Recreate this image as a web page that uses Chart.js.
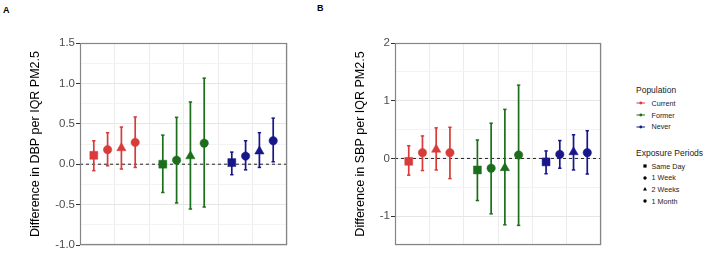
<!DOCTYPE html>
<html>
<head>
<meta charset="utf-8">
<script src="https://cdn.jsdelivr.net/npm/chart.js@4.4.1/dist/chart.umd.min.js"></script>
<style>
  html, body { margin: 0; padding: 0; background: #fff; }
  body { width: 709px; height: 253px; position: relative; overflow: hidden; font-family: "Liberation Sans", Arial, sans-serif; }
  canvas { position: absolute; top: 0; }
  .lbl { position: absolute; white-space: nowrap; color: #000; }
  .panel { font-weight: bold; font-size: 9px; }
  .ltitle { font-size: 8.5px; line-height: 10px; height: 10px; color: #222; }
  .litem { font-size: 7.2px; line-height: 9px; height: 9px; color: #222; }
  svg.key { position: absolute; overflow: visible; }
</style>
</head>
<body>
<div class="lbl panel" style="left:3px; top:5px;">A</div>
<div class="lbl panel" style="left:317px; top:3px;">B</div>
<canvas id="chartA" width="300" height="253" style="left:0px;"></canvas>
<canvas id="chartB" width="310" height="253" style="left:300px;"></canvas>
<div id="legend"></div>
<script>
// ---------- Categories ----------
const populations = ['Current', 'Former', 'Never'];
const periods = ['Same Day', '1 Week', '2 Weeks', '1 Month'];
const popColors = ['#D93A3A', '#1C6E1C', '#17178A'];
const periodShapes = ['rect', 'circle', 'triangle', 'circle'];

// ---------- Panel A: DBP ----------
const dbpCurrent     = [0.11, 0.18, 0.20, 0.27];
const dbpCurrentLow  = [-0.08, -0.02, -0.06, -0.04];
const dbpCurrentHigh = [0.29, 0.39, 0.46, 0.585];
const dbpFormer      = [0.00, 0.05, 0.10, 0.26];
const dbpFormerLow   = [-0.35, -0.48, -0.555, -0.53];
const dbpFormerHigh  = [0.36, 0.58, 0.77, 1.065];
const dbpNever       = [0.02, 0.10, 0.16, 0.29];
const dbpNeverLow    = [-0.13, -0.07, -0.04, 0.03];
const dbpNeverHigh   = [0.15, 0.29, 0.39, 0.57];
const dbpTickValues  = [-1, -0.5, 0, 0.5, 1, 1.5];
const dbpTickLabels  = ['-1.0', '-0.5', '0.0', '0.5', '1.0', '1.5'];

// ---------- Panel B: SBP ----------
const sbpCurrent     = [-0.05, 0.10, 0.155, 0.10];
const sbpCurrentLow  = [-0.29, -0.21, -0.20, -0.35];
const sbpCurrentHigh = [0.22, 0.39, 0.53, 0.54];
const sbpFormer      = [-0.20, -0.17, -0.165, 0.06];
const sbpFormerLow   = [-0.73, -0.96, -1.15, -1.16];
const sbpFormerHigh  = [0.32, 0.61, 0.85, 1.27];
const sbpNever       = [-0.06, 0.07, 0.11, 0.10];
const sbpNeverLow    = [-0.265, -0.17, -0.20, -0.27];
const sbpNeverHigh   = [0.13, 0.31, 0.41, 0.48];
const sbpTickValues  = [-1, 0, 1, 2];
const sbpTickLabels  = ['-1', '0', '1', '2'];

const FONT = '"Liberation Sans", Arial, sans-serif';
const radii = { rect: 5.6, circle: 4.2, triangle: 5.4 };

function xPos(g, p) { return g * 5 + p + 1; }

const framePlugin = {
  id: 'frame',
  afterDatasetsDraw(chart) {
    const a = chart.chartArea, ctx = chart.ctx;
    ctx.save();
    ctx.strokeStyle = '#858585';
    ctx.lineWidth = 1.2;
    ctx.strokeRect(Math.round(a.left) + 0.5, Math.round(a.top) + 0.5,
                   Math.round(a.right - a.left) - 1, Math.round(a.bottom - a.top) - 1);
    ctx.restore();
  }
};

function makeChart(id, groups, opt) {
  const datasets = [];
  // points (drawn on top: first datasets are drawn last)
  groups.forEach((grp, g) => {
    datasets.push({
      label: populations[g],
      data: grp.est.map((v, p) => ({ x: xPos(g, p), y: v })),
      pointStyle: periodShapes.slice(),
      pointRadius: periodShapes.map(s => radii[s]),
      backgroundColor: popColors[g],
      borderColor: popColors[g],
      pointBorderWidth: 0.5,
      showLine: false
    });
  });
  // error bars
  groups.forEach((grp, g) => {
    const d = [];
    grp.est.forEach((v, p) => {
      d.push({ x: xPos(g, p), y: grp.lo[p] });
      d.push({ x: xPos(g, p), y: grp.hi[p] });
      d.push({ x: xPos(g, p), y: null });
    });
    datasets.push({
      label: populations[g] + ' CI',
      data: d,
      showLine: true,
      spanGaps: false,
      borderColor: popColors[g],
      backgroundColor: popColors[g],
      borderWidth: 1.7,
      pointStyle: 'line',
      pointRadius: 1.7,
      pointBorderWidth: 1.5,
      pointBorderColor: popColors[g]
    });
  });
  // reference line at 0
  datasets.push({
    label: 'zero',
    data: [{ x: 0, y: 0 }, { x: 15, y: 0 }],
    showLine: true,
    borderColor: '#222',
    borderWidth: 1,
    borderDash: [3, 3],
    pointRadius: 0
  });

  const isMajor = v => opt.tickValues.some(t => Math.abs(t - v) < 1e-9);

  return new Chart(document.getElementById(id), {
    type: 'scatter',
    data: { datasets },
    plugins: [framePlugin],
    options: {
      responsive: false,
      animation: false,
      events: [],
      layout: { autoPadding: false, padding: opt.padding },
      plugins: { legend: { display: false }, tooltip: { enabled: false } },
      scales: {
        x: {
          type: 'linear', min: 0, max: 15,
          ticks: { display: false, stepSize: 2.5 },
          grid: { color: '#ececec', lineWidth: 1, drawTicks: false },
          border: { display: false },
          afterFit: s => { s.height = 0; }
        },
        y: {
          type: 'linear', min: opt.min, max: opt.max,
          ticks: {
            stepSize: opt.step, autoSkip: false, padding: 1,
            color: '#4d4d4d',
            font: { family: FONT, size: 11.5 },
            callback: v => {
              const i = opt.tickValues.findIndex(t => Math.abs(t - v) < 1e-9);
              return i >= 0 ? opt.tickLabels[i] : '';
            }
          },
          grid: {
            color: c => isMajor(c.tick.value) ? '#e6e6e6' : '#f3f3f3',
            lineWidth: 1,
            tickLength: 4,
            tickColor: c => isMajor(c.tick.value) ? '#333' : 'rgba(0,0,0,0)'
          },
          border: { display: false },
          title: {
            display: true, text: opt.title, color: '#000',
            font: { family: FONT, size: 12.5 }, padding: 0
          },
          afterFit: s => { s.width = opt.scaleWidth; }
        }
      }
    }
  });
}

makeChart('chartA', [
  { est: dbpCurrent, lo: dbpCurrentLow, hi: dbpCurrentHigh },
  { est: dbpFormer,  lo: dbpFormerLow,  hi: dbpFormerHigh },
  { est: dbpNever,   lo: dbpNeverLow,   hi: dbpNeverHigh }
], {
  min: -1, max: 1.5, step: 0.25,
  tickValues: dbpTickValues, tickLabels: dbpTickLabels,
  title: 'Difference in DBP per IQR PM2.5',
  padding: { left: 28, top: 43, right: 13, bottom: 8 },
  scaleWidth: 52
});

makeChart('chartB', [
  { est: sbpCurrent, lo: sbpCurrentLow, hi: sbpCurrentHigh },
  { est: sbpFormer,  lo: sbpFormerLow,  hi: sbpFormerHigh },
  { est: sbpNever,   lo: sbpNeverLow,   hi: sbpNeverHigh }
], {
  min: -1.5, max: 2, step: 0.5,
  tickValues: sbpTickValues, tickLabels: sbpTickLabels,
  title: 'Difference in SBP per IQR PM2.5',
  padding: { left: 53.5, top: 43, right: 9, bottom: 8 },
  scaleWidth: 41.5
});

// ---------- Legend (HTML) ----------
(function buildLegend() {
  const L = document.getElementById('legend');
  const add = html => L.insertAdjacentHTML('beforeend', html);
  add('<div class="lbl ltitle" style="left:636px; top:85px;">Population</div>');
  populations.forEach((p, i) => {
    const cy = 103.3 + i * 11.7;
    add(`<svg class="key" width="10" height="6" style="left:636px; top:${cy - 3}px;">
           <line x1="0.5" y1="3" x2="9" y2="3" stroke="${popColors[i]}" stroke-width="1"/>
           <circle cx="4.8" cy="3" r="1.4" fill="${popColors[i]}"/></svg>`);
    add(`<div class="lbl litem" style="left:651.5px; top:${cy - 4.5}px;">${p}</div>`);
  });
  add('<div class="lbl ltitle" style="left:636px; top:148px;">Exposure Periods</div>');
  const shapeSvg = s => {
    if (s === 'rect') return '<rect x="1.4" y="1.4" width="3.2" height="3.2" fill="#000"/>';
    if (s === 'triangle') return '<polygon points="3,1 5,4.6 1,4.6" fill="#000"/>';
    return '<circle cx="3" cy="3" r="1.7" fill="#000"/>';
  };
  periods.forEach((p, i) => {
    const cy = 166 + i * 11.7;
    add(`<svg class="key" width="6" height="6" style="left:641.5px; top:${cy - 3}px;">${shapeSvg(periodShapes[i])}</svg>`);
    add(`<div class="lbl litem" style="left:651.5px; top:${cy - 4.5}px;">${p}</div>`);
  });
})();
</script>
</body>
</html>
